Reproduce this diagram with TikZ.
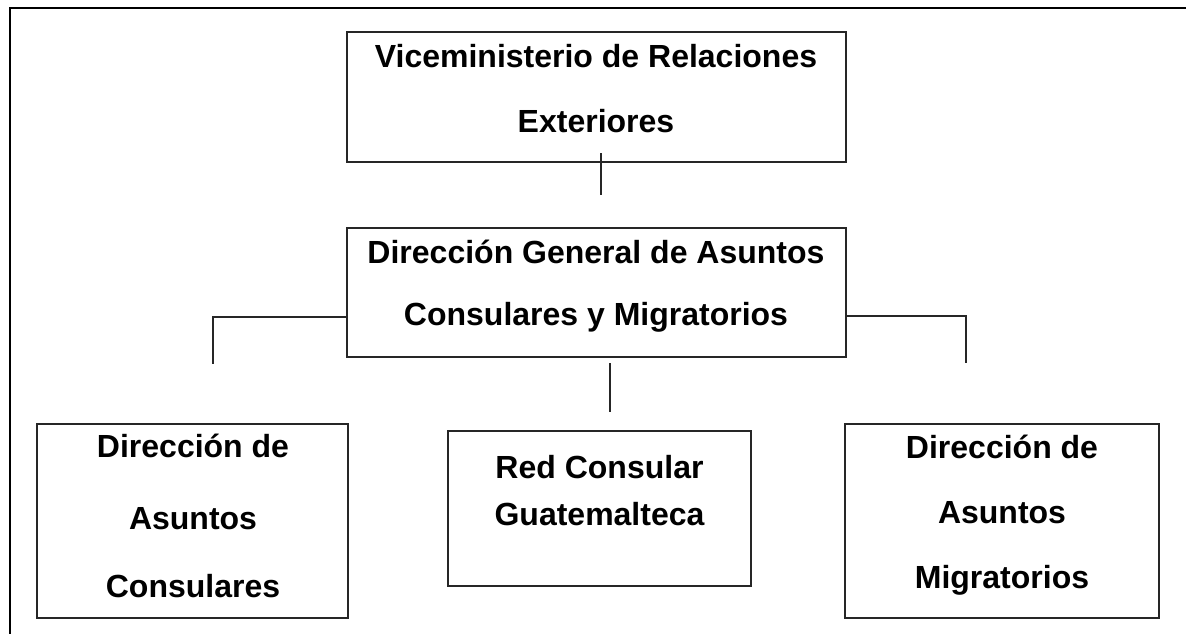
\documentclass[tikz,border=0pt]{standalone}
\usepackage{fontspec}
\setmainfont{Liberation Sans}
\begin{document}
\begin{tikzpicture}[x=1pt,y=-1pt,
  box/.style={draw=black!85, line width=1.5pt, inner sep=0pt},
  lbl/.style={anchor=base, inner sep=0pt, font=\fontsize{32}{38}\selectfont\bfseries},
  conn/.style={draw=black!85, line width=1.5pt},
  frame/.style={draw=black, line width=2.4pt}]
\useasboundingbox (0,0) rectangle (1186,633);
% outer frame (open to the right and bottom)
\coordinate (f1) at (10,640);
\coordinate (f2) at (10,8);
\coordinate (f3) at (1190,8);
\draw[frame] (f1) -- (f2) -- (f3);
% boxes
\node[box, minimum width=499pt, minimum height=130pt] (vice) at (596.5,97) {};
\node[box, minimum width=499pt, minimum height=129pt] (dg) at (596.5,292.5) {};
\node[box, minimum width=311pt, minimum height=194pt] (dac) at (192.5,521) {};
\node[box, minimum width=303pt, minimum height=155pt] (red) at (599.5,508.5) {};
\node[box, minimum width=314pt, minimum height=194pt] (dam) at (1002,521) {};
% texts
\node[lbl] (vice1) at (596,67) {Viceministerio de Relaciones};
\node[lbl] (vice2) at (596,132) {Exteriores};
\node[lbl] (dg1) at (596,263) {Dirección General de Asuntos};
\node[lbl] (dg2) at (596,325) {Consulares y Migratorios};
\node[lbl] (dac1) at (193,457) {Dirección de};
\node[lbl] (dac2) at (193,529) {Asuntos};
\node[lbl] (dac3) at (193,597) {Consulares};
\node[lbl] (red1) at (599.5,478) {Red Consular};
\node[lbl] (red2) at (599.5,525) {Guatemalteca};
\node[lbl] (dam1) at (1002,458) {Dirección de};
\node[lbl] (dam2) at (1002,523) {Asuntos};
\node[lbl] (dam3) at (1002,588) {Migratorios};
% connectors
\coordinate (c1a) at (601,153);
\coordinate (c1b) at (601,195);
\draw[conn] (c1a) -- (c1b);
\coordinate (c2a) at (dg.west |- 0,317);
\coordinate (c2b) at (213,317);
\coordinate (c2c) at (213,364);
\draw[conn] (c2a) -- (c2b) -- (c2c);
\coordinate (c3a) at (dg.east |- 0,316);
\coordinate (c3b) at (966,316);
\coordinate (c3c) at (966,363);
\draw[conn] (c3a) -- (c3b) -- (c3c);
\coordinate (c4a) at (610,363);
\coordinate (c4b) at (610,412);
\draw[conn] (c4a) -- (c4b);
\end{tikzpicture}
\end{document}
